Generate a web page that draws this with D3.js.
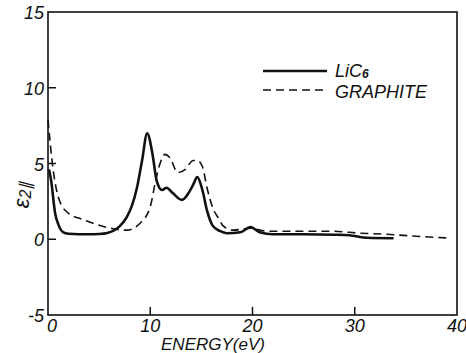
<!DOCTYPE html>
<html>
<head>
<meta charset="utf-8">
<script src="https://cdn.jsdelivr.net/npm/d3@7"></script>
<style>
  body { margin: 0; background: #fff; }
  text { font-family: "Liberation Sans", Arial, sans-serif; font-style: italic; fill: #111; }
</style>
</head>
<body>
<script>
// energy (eV) and eps2 values
var licEnergy = [0.1, 0.3, 0.7, 1.0, 1.5, 2.0, 3, 4, 5, 5.8, 6.5, 7.0, 7.7, 8.2, 8.7, 9.2, 9.7, 10.2, 10.65, 11.15, 11.6, 12.2, 13.1, 13.7, 14.2, 14.6, 15.1, 15.55, 16.1, 16.8, 17.5, 18.8, 19.8, 20.7, 22, 25, 28, 29.5, 31.2, 33.8];
var licValues = [4.6, 3.9, 1.7, 1.0, 0.45, 0.36, 0.33, 0.33, 0.35, 0.42, 0.6, 0.85, 1.46, 2.2, 3.4, 5.2, 7.0, 5.7, 3.8, 3.25, 3.4, 3.05, 2.6, 3.0, 3.6, 4.1, 3.25, 1.9, 0.9, 0.55, 0.4, 0.46, 0.8, 0.46, 0.33, 0.33, 0.3, 0.26, 0.1, 0.07];

var graEnergy = [0, 0.5, 1.0, 1.85, 3.4, 4.4, 6.1, 7.7, 9.0, 9.98, 10.6, 10.96, 11.45, 11.9, 12.7, 13.4, 14.2, 14.6, 15.1, 15.55, 16.1, 16.8, 17.1, 18.1, 19.8, 21.4, 24.4, 27.6, 30.5, 33, 36, 39.3];
var graValues = [7.9, 4.6, 2.8, 1.8, 1.3, 1.06, 0.73, 0.6, 1.06, 2.1, 4.1, 5.0, 5.6, 5.4, 4.4, 4.6, 5.2, 5.2, 4.8, 3.4, 2.1, 1.26, 0.9, 0.6, 0.73, 0.53, 0.53, 0.53, 0.4, 0.33, 0.2, 0.08];

var xTicks = [0, 10, 20, 30, 40];
var yTicks = [-5, 0, 5, 10, 15];

var width = 466, height = 353;

var svg = d3.select("body").append("svg")
    .attr("width", width)
    .attr("height", height);

var x = d3.scaleLinear().domain([0, 40]).range([48, 457]);
var y = d3.scaleLinear().domain([-5, 15]).range([315, 12]);

// frame
svg.append("rect")
    .attr("x", x(0)).attr("y", y(15))
    .attr("width", x(40) - x(0)).attr("height", y(-5) - y(15))
    .attr("fill", "none").attr("stroke", "#111").attr("stroke-width", 1.6);

// inward ticks
svg.append("g").selectAll("line")
    .data(yTicks.filter(function(d){ return d > -5 && d < 15 }))
    .enter().append("line")
    .attr("x1", x(0)).attr("x2", x(0) + 8)
    .attr("y1", function(d){ return y(d) }).attr("y2", function(d){ return y(d) })
    .attr("stroke", "#111").attr("stroke-width", 1.5);

svg.append("g").selectAll("line")
    .data(xTicks.filter(function(d){ return d > 0 && d < 40 }))
    .enter().append("line")
    .attr("x1", function(d){ return x(d) }).attr("x2", function(d){ return x(d) })
    .attr("y1", y(-5)).attr("y2", y(-5) - 8)
    .attr("stroke", "#111").attr("stroke-width", 1.5);

// tick labels
svg.append("g").selectAll("text")
    .data(yTicks)
    .enter().append("text")
    .attr("x", 44)
    .attr("y", function(d){ return y(d) + 7 })
    .attr("text-anchor", "end")
    .style("font-size", "18px")
    .text(function(d){ return d });

svg.append("g").selectAll("text")
    .data(xTicks)
    .enter().append("text")
    .attr("x", function(d){ return x(d) + (d == 0 ? 4 : 0) })
    .attr("y", 332)
    .attr("text-anchor", "middle")
    .style("font-size", "18px")
    .text(function(d){ return d });

// axis titles
svg.append("text")
    .attr("x", 213).attr("y", 350)
    .attr("text-anchor", "middle")
    .style("font-size", "17px")
    .text("ENERGY(eV)");

var yl = svg.append("text")
    .attr("transform", "translate(29,195) rotate(-90)")
    .attr("text-anchor", "middle")
    .style("font-size", "22px");
yl.append("tspan").text("\u03b5");
yl.append("tspan").attr("dy", 2).style("font-size", "16px").text("2\u2225");

// curves
var line = d3.line()
    .x(function(d){ return x(d[0]) })
    .y(function(d){ return y(d[1]) })
    .curve(d3.curveMonotoneX);

svg.append("path")
    .datum(d3.zip(graEnergy, graValues))
    .attr("d", line)
    .attr("fill", "none").attr("stroke", "#111")
    .attr("stroke-width", 1.6)
    .attr("stroke-dasharray", "8,5");

svg.append("path")
    .datum(d3.zip(licEnergy, licValues))
    .attr("d", line)
    .attr("fill", "none").attr("stroke", "#111")
    .attr("stroke-width", 2.6);

// legend
svg.append("line")
    .attr("x1", 263).attr("x2", 327).attr("y1", 71).attr("y2", 71)
    .attr("stroke", "#111").attr("stroke-width", 2.4);
svg.append("line")
    .attr("x1", 263).attr("x2", 327).attr("y1", 90).attr("y2", 90)
    .attr("stroke", "#111").attr("stroke-width", 1.6)
    .attr("stroke-dasharray", "8,5");

var lic = svg.append("text").attr("x", 335).attr("y", 77).style("font-size", "18px");
lic.append("tspan").text("LiC");
lic.append("tspan").attr("dy", 1).style("font-size", "12px").style("font-weight", "bold").text("6");

svg.append("text").attr("x", 335).attr("y", 98).style("font-size", "18px").text("GRAPHITE");
</script>
</body>
</html>
